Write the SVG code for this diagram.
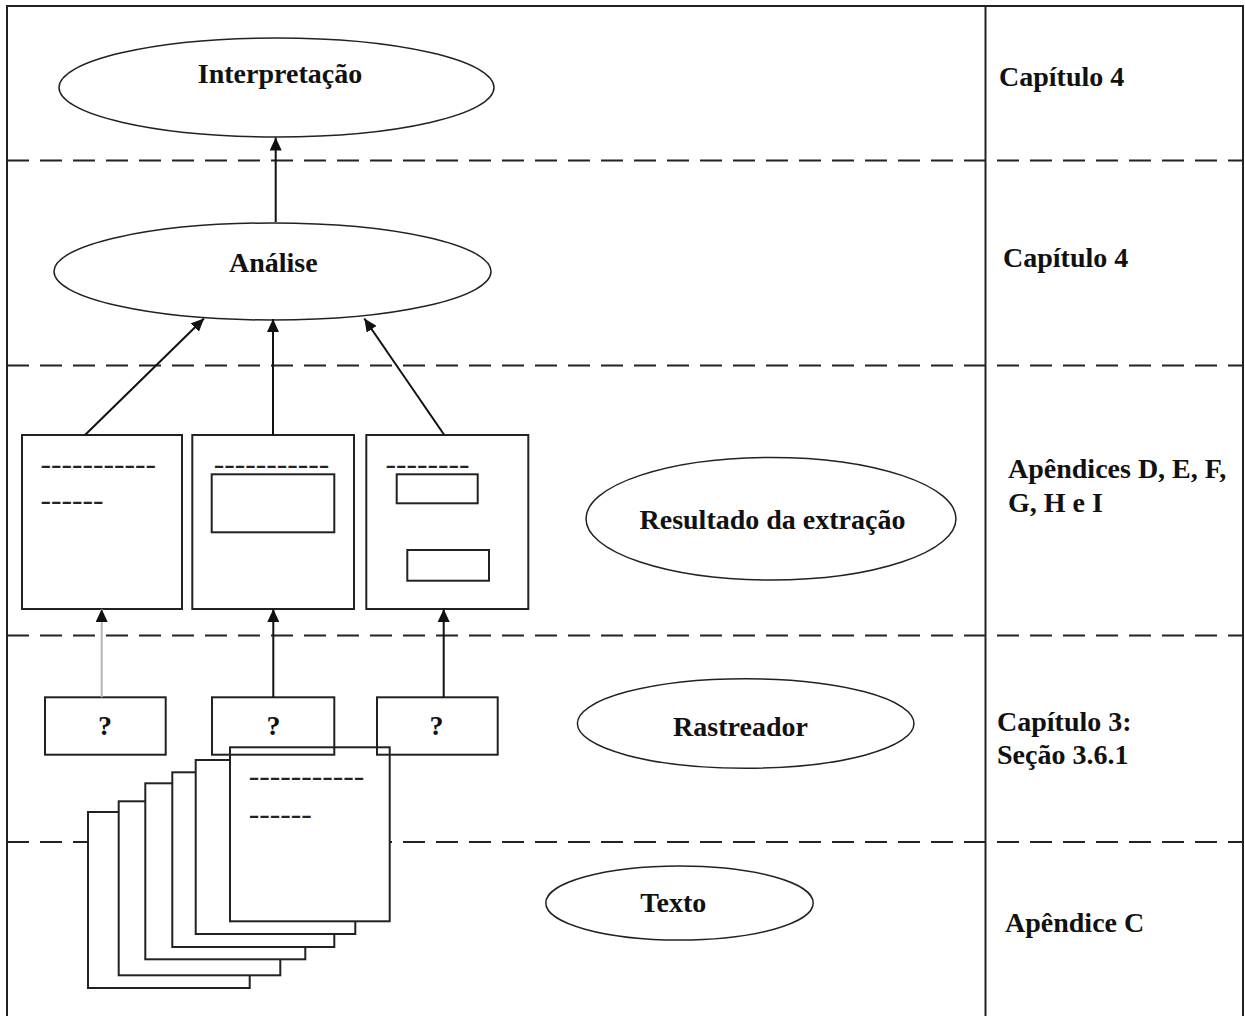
<svg xmlns="http://www.w3.org/2000/svg" width="1245" height="1016" viewBox="0 0 1245 1016">
<style>
.lbl{font-family:"Liberation Serif","Times New Roman",serif;font-weight:bold;font-size:28px;fill:#111}
.mid{text-anchor:middle}
.hy{font-family:"Liberation Serif","Times New Roman",serif;font-size:31.5px;fill:#222}
.ell{fill:#fff;stroke:#222;stroke-width:1.5}
.box{fill:#fff;stroke:#222;stroke-width:2}
.qbox{fill:none;stroke:#222;stroke-width:2}
.dash{stroke:#222;stroke-width:2;stroke-dasharray:22 11;fill:none}
.conn{stroke:#111;stroke-width:2;fill:none}
</style>
<defs>
<marker id="ah" markerUnits="userSpaceOnUse" markerWidth="13" markerHeight="12" refX="13" refY="6" orient="auto">
<path d="M0,0 L13,6 L0,12 z" fill="#111"/>
</marker>
</defs>
<rect width="1245" height="1016" fill="#fff"/>
<g id="frame">
<rect x="7" y="6" width="1236" height="1020" fill="none" stroke="#222" stroke-width="2"/>
<line x1="985.5" y1="6" x2="985.5" y2="1016" stroke="#222" stroke-width="2"/>
<line class="dash" x1="7" y1="160.5" x2="1243" y2="160.5"/>
<line class="dash" x1="7" y1="365.5" x2="1243" y2="365.5"/>
<line class="dash" x1="7" y1="635.5" x2="1243" y2="635.5"/>
<line class="dash" x1="7" y1="842" x2="1243" y2="842"/>
</g>
<g id="labels-right">
<text class="lbl" x="999" y="86" font-size="27">Capítulo 4</text>
<text class="lbl" x="1003" y="266.5" font-size="27">Capítulo 4</text>
<text class="lbl" x="1008" y="478">Apêndices D, E, F,</text>
<text class="lbl" x="1008" y="511.5">G, H e I</text>
<text class="lbl" x="997" y="730.5" font-size="27">Capítulo 3:</text>
<text class="lbl" x="997" y="764" font-size="27">Seção 3.6.1</text>
<text class="lbl" x="1005" y="931.5" font-size="27">Apêndice C</text>
</g>
<g id="interpretacao">
<ellipse class="ell" cx="276.5" cy="87.5" rx="217.5" ry="49.5"/>
<text class="lbl mid" x="280" y="83.3">Interpretação</text>
</g>
<g id="analise">
<ellipse class="ell" cx="272.5" cy="271.5" rx="218.5" ry="48.5"/>
<text class="lbl mid" x="273.3" y="271.7">Análise</text>
</g>
<g id="resultado">
<ellipse class="ell" cx="771" cy="518.7" rx="185" ry="61.3"/>
<text class="lbl mid" x="772.5" y="529.3">Resultado da extração</text>
</g>
<g id="rastreador">
<ellipse class="ell" cx="745.7" cy="723.5" rx="168.3" ry="44.8"/>
<text class="lbl mid" x="740.5" y="735.7">Rastreador</text>
</g>
<g id="texto">
<ellipse class="ell" cx="679.5" cy="903" rx="133.7" ry="37"/>
<text class="lbl mid" x="673.3" y="911.7">Texto</text>
</g>
<g id="result1">
<rect class="box" x="22" y="435" width="160" height="174"/>
<text class="hy" x="40.5" y="474.4">-----------</text>
<text class="hy" x="40.5" y="510.4">------</text>
</g>
<g id="result2">
<rect class="box" x="192.3" y="435" width="161.7" height="174"/>
<text class="hy" x="213.8" y="474">-----------</text>
<rect class="box" x="211.7" y="474.3" width="122.6" height="58"/>
</g>
<g id="result3">
<rect class="box" x="366.3" y="435" width="162" height="174"/>
<text class="hy" x="385.5" y="474">--------</text>
<rect class="box" x="396.7" y="474.3" width="81" height="29"/>
<rect class="box" x="407.3" y="550" width="81.7" height="30.7"/>
</g>
<g id="pages">
<rect class="box" x="88" y="812" width="161.7" height="176"/>
<rect class="box" x="118.7" y="801.3" width="161.6" height="174"/>
<rect class="box" x="145.3" y="783.3" width="160" height="176"/>
<rect class="box" x="172.3" y="772.3" width="162" height="174.7"/>
<rect class="box" x="195.7" y="760" width="159.6" height="174"/>
<rect class="box" x="230" y="747.3" width="159.7" height="174"/>
<text class="hy" x="248.8" y="786.4">-----------</text>
<text class="hy" x="248.8" y="824.1">------</text>
</g>
<g id="q1">
<rect class="qbox" x="45" y="697.3" width="120.7" height="57.4"/>
<text class="lbl mid" x="105" y="735">?</text>
</g>
<g id="q2">
<rect class="qbox" x="212" y="697.3" width="122.3" height="57.4"/>
<text class="lbl mid" x="273.5" y="735">?</text>
</g>
<g id="q3">
<rect class="qbox" x="377" y="697.3" width="120.7" height="57.4"/>
<text class="lbl mid" x="436.5" y="735">?</text>
</g>
<g id="connectors">
<line class="conn" x1="275.7" y1="222" x2="275.7" y2="137.5" marker-end="url(#ah)"/>
<line class="conn" x1="85" y1="435" x2="204" y2="318.5" marker-end="url(#ah)"/>
<line class="conn" x1="273" y1="435" x2="273" y2="319" marker-end="url(#ah)"/>
<line class="conn" x1="444.3" y1="435" x2="364.3" y2="318.5" marker-end="url(#ah)"/>
<line class="conn" x1="101.7" y1="697.3" x2="101.7" y2="609" stroke="#b4b4b4" marker-end="url(#ah)" style="stroke:#b4b4b4"/>
<line class="conn" x1="273.3" y1="697.3" x2="273.3" y2="609" marker-end="url(#ah)"/>
<line class="conn" x1="443.7" y1="697.3" x2="443.7" y2="609" marker-end="url(#ah)"/>
</g>
</svg>
